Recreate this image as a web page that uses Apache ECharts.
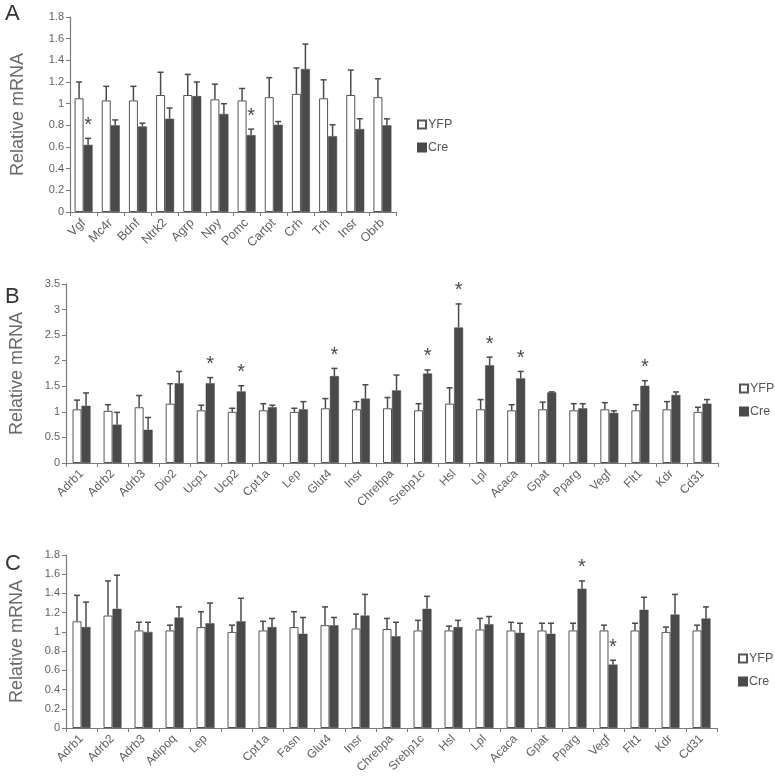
<!DOCTYPE html>
<html>
<head>
<meta charset="utf-8">
<script src="https://cdn.jsdelivr.net/npm/echarts@6/dist/echarts.min.js"></script>
<style>html,body{margin:0;padding:0;background:#fff;}#chart{width:775px;height:784px;}</style>
</head>
<body>
<div id="chart"></div>
<script>
// ---- Panel A ----
const catsA = ['Vgf','Mc4r','Bdnf','Ntrk2','Agrp','Npy','Pomc','Cartpt','Crh','Trh','Insr','Obrb'];
const yfpA = [1.05,1.03,1.03,1.08,1.08,1.04,1.03,1.06,1.09,1.05,1.08,1.06];
const yfpErrA = [0.15,0.13,0.13,0.21,0.19,0.14,0.11,0.18,0.24,0.17,0.23,0.17];
const creA = [0.62,0.80,0.79,0.86,1.07,0.905,0.71,0.805,1.32,0.70,0.766,0.80];
const creErrA = [0.06,0.05,0.03,0.10,0.13,0.095,0.055,0.03,0.23,0.105,0.095,0.06];
const sigA = [1,0,0,0,0,0,1,0,0,0,0,0];
const ticksA = [0,0.2,0.4,0.6,0.8,1,1.2,1.4,1.6,1.8];

// ---- Panel B ----
const catsB = ['Adrb1','Adrb2','Adrb3','Dio2','Ucp1','Ucp2','Cpt1a','Lep','Glut4','Insr','Chrebpa','Srebp1c','Hsl','Lpl','Acaca','Gpat','Pparg','Vegf','Flt1','Kdr','Cd31'];
const yfpB = [1.05,1.02,1.09,1.16,1.03,1.00,1.03,1.00,1.07,1.05,1.07,1.03,1.16,1.05,1.03,1.05,1.03,1.05,1.03,1.05,1.00];
const yfpErrB = [0.18,0.12,0.23,0.39,0.10,0.07,0.13,0.07,0.19,0.15,0.21,0.13,0.31,0.19,0.11,0.14,0.13,0.13,0.11,0.15,0.09];
const creB = [1.12,0.75,0.65,1.56,1.56,1.40,1.09,1.05,1.70,1.26,1.42,1.75,2.65,1.91,1.655,1.38,1.07,0.98,1.51,1.33,1.16];
const creErrB = [0.25,0.24,0.24,0.23,0.11,0.11,0.04,0.15,0.15,0.27,0.30,0.07,0.46,0.16,0.135,0.01,0.09,0.04,0.10,0.06,0.08];
const sigB = [0,0,0,0,1,1,0,0,1,0,0,1,1,1,1,0,0,0,1,0,0];
const ticksB = [0,0.5,1,1.5,2,2.5,3,3.5];

// ---- Panel C ----
const catsC = ['Adrb1','Adrb2','Adrb3','Adipoq','Lep','','Cpt1a','Fasn','Glut4','Insr','Chrebpa','Srebp1c','Hsl','Lpl','Acaca','Gpat','Pparg','Vegf','Flt1','Kdr','Cd31'];
const yfpC = [1.11,1.17,1.015,1.015,1.05,1.00,1.015,1.05,1.07,1.035,1.03,1.015,1.015,1.025,1.015,1.015,1.015,1.015,1.015,1.00,1.015];
const yfpErrC = [0.27,0.36,0.085,0.055,0.16,0.07,0.095,0.16,0.19,0.15,0.11,0.105,0.045,0.115,0.085,0.075,0.075,0.055,0.075,0.05,0.055];
const creC = [1.05,1.24,1.00,1.15,1.09,1.11,1.05,0.98,1.07,1.17,0.955,1.24,1.05,1.08,0.99,0.98,1.45,0.66,1.23,1.18,1.14];
const creErrC = [0.26,0.35,0.10,0.11,0.21,0.24,0.09,0.17,0.08,0.22,0.145,0.13,0.07,0.08,0.10,0.11,0.08,0.045,0.13,0.21,0.12];
const sigC = [0,0,0,0,0,0,0,0,0,0,0,0,0,0,0,0,1,1,0,0,0];
const ticksC = [0,0.2,0.4,0.6,0.8,1,1.2,1.4,1.6,1.8];

const FONT = 'Liberation Sans, Arial, sans-serif';
const AXIS_C = '#7a7a7a';
const TEXT_C = '#606060';
const DARK = '#4a4a4a';
const BAR_W = 9;

const panels = [
  {cats: catsA, yfp: yfpA, yfpErr: yfpErrA, cre: creA, creErr: creErrA, sig: sigA, ticks: ticksA,
   grid: {left: 70, top: 17, width: 326, height: 195}, legend: {left: 417, top: 118}, labelSize: 12.5, nameGap: 43},
  {cats: catsB, yfp: yfpB, yfpErr: yfpErrB, cre: creB, creErr: creErrB, sig: sigB, ticks: ticksB,
   grid: {left: 60, top: 284, width: 658, height: 179}, legend: {left: 739, top: 382}, labelSize: 12, nameGap: 40},
  {cats: catsC, yfp: yfpC, yfpErr: yfpErrC, cre: creC, creErr: creErrC, sig: sigC, ticks: ticksC,
   grid: {left: 59, top: 555, width: 658, height: 173}, legend: {left: 738, top: 652}, labelSize: 12, nameGap: 40}
];

function errSeries(i, vals, errs, sig, offset) {
  return {
    type: 'custom', xAxisIndex: i, yAxisIndex: i, z: 5, silent: true,
    data: vals.map((v, k) => [k, v, errs[k], sig ? sig[k] : 0]),
    encode: {x: 0, y: 1},
    renderItem: function (params, api) {
      const idx = api.value(0), v = api.value(1), e = api.value(2), s = api.value(3);
      const base = api.coord([idx, v]);
      const top = api.coord([idx, v + e]);
      const x = base[0] + offset;
      const children = [
        {type: 'line', shape: {x1: x, y1: base[1], x2: x, y2: top[1]}, style: {stroke: DARK, lineWidth: 1.5}},
        {type: 'line', shape: {x1: x - 3, y1: top[1], x2: x + 3, y2: top[1]}, style: {stroke: DARK, lineWidth: 1.5}}
      ];
      if (s) {
        children.push({type: 'text', style: {text: '*', x: x, y: top[1] - 3, textAlign: 'center', textVerticalAlign: 'bottom',
          font: '20px ' + FONT, fill: DARK}});
      }
      return {type: 'group', children: children};
    }
  };
}

const grids = [], xAxes = [], yAxes = [], series = [], legends = [];
panels.forEach((p, i) => {
  grids.push(Object.assign({containLabel: false}, p.grid));
  xAxes.push({
    type: 'category', gridIndex: i, data: p.cats, boundaryGap: true,
    axisLine: {lineStyle: {color: AXIS_C, width: 1.2}},
    axisTick: {show: true, interval: 0, length: 4, lineStyle: {color: AXIS_C}},
    axisLabel: {interval: 0, rotate: 45, margin: 9, color: TEXT_C, fontSize: p.labelSize, fontFamily: FONT}
  });
  const maxV = p.ticks[p.ticks.length - 1];
  yAxes.push({
    type: 'value', gridIndex: i, min: 0, max: maxV, interval: p.ticks[1] - p.ticks[0],
    name: 'Relative mRNA', nameLocation: 'middle', nameGap: p.nameGap,
    nameTextStyle: {color: '#6a6a6a', fontSize: 18, fontFamily: FONT},
    axisLine: {show: true, lineStyle: {color: AXIS_C, width: 1.2}},
    axisTick: {show: true, length: 4, lineStyle: {color: AXIS_C}},
    splitLine: {show: false},
    axisLabel: {color: TEXT_C, fontSize: 11, fontFamily: FONT, margin: 6}
  });
  series.push({
    name: 'YFP', type: 'bar', xAxisIndex: i, yAxisIndex: i, data: p.yfp, barWidth: BAR_W, barGap: '0%',
    itemStyle: {color: '#ffffff', borderColor: '#555', borderWidth: 1}
  });
  series.push({
    name: 'Cre', type: 'bar', xAxisIndex: i, yAxisIndex: i, data: p.cre, barWidth: BAR_W, barGap: '0%',
    itemStyle: {color: DARK, borderColor: DARK, borderWidth: 0.5}
  });
  series.push(errSeries(i, p.yfp, p.yfpErr, null, -BAR_W / 2));
  series.push(errSeries(i, p.cre, p.creErr, p.sig, BAR_W / 2));
  legends.push({
    left: p.legend.left, top: p.legend.top, orient: 'vertical', data: ['YFP', 'Cre'],
    icon: 'rect', itemWidth: 8, itemHeight: 8, itemGap: 10, padding: 0, selectedMode: false,
    textStyle: {color: '#555', fontSize: 12.5, fontFamily: FONT, padding: [0, 0, 0, -3]}
  });
});

const chart = echarts.init(document.getElementById('chart'), null, {renderer: 'canvas'});
chart.setOption({
  animation: false,
  backgroundColor: '#fff',
  grid: grids, xAxis: xAxes, yAxis: yAxes, series: series, legend: legends,
  graphic: [
    {type: 'text', left: 5, top: 3, style: {text: 'A', font: '22px ' + FONT, fill: '#333'}},
    {type: 'text', left: 5, top: 286, style: {text: 'B', font: '22px ' + FONT, fill: '#333'}},
    {type: 'text', left: 5, top: 553, style: {text: 'C', font: '22px ' + FONT, fill: '#333'}}
  ]
});
</script>
</body>
</html>
